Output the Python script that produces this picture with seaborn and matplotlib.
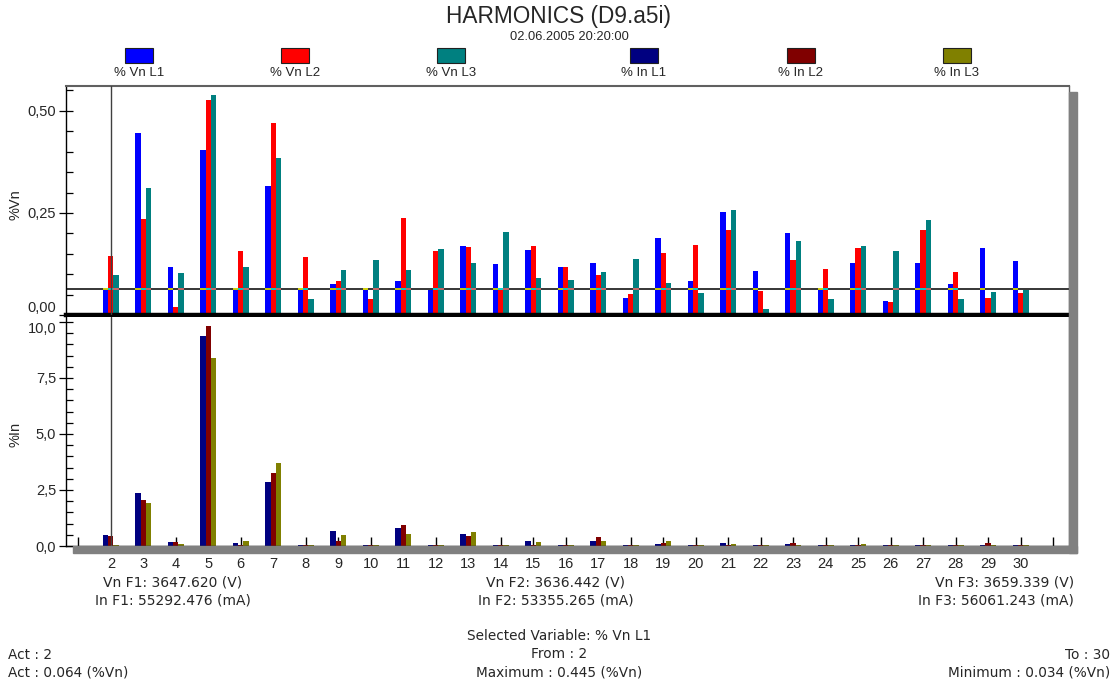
import numpy as np
import pandas as pd
import matplotlib
matplotlib.use("Agg")
import matplotlib.pyplot as plt
from matplotlib.patches import Rectangle
from matplotlib.ticker import MultipleLocator
import seaborn as sns

# ---------------- data ----------------
harmonics = list(range(2, 31))
vn_l1 = [0.064, 0.445, 0.117, 0.405, 0.064, 0.316, 0.063, 0.075, 0.062, 0.083,
         0.061, 0.169, 0.125, 0.159, 0.117, 0.127, 0.041, 0.188, 0.083, 0.253,
         0.109, 0.201, 0.063, 0.127, 0.034, 0.127, 0.075, 0.164, 0.132]
vn_l2 = [0.145, 0.234, 0.019, 0.526, 0.156, 0.471, 0.143, 0.083, 0.038, 0.238,
         0.156, 0.167, 0.062, 0.169, 0.117, 0.098, 0.051, 0.151, 0.172, 0.208,
         0.059, 0.135, 0.112, 0.164, 0.033, 0.208, 0.106, 0.041, 0.054]
vn_l3 = [0.098, 0.310, 0.104, 0.539, 0.117, 0.384, 0.038, 0.111, 0.135, 0.111,
         0.161, 0.127, 0.203, 0.090, 0.085, 0.106, 0.137, 0.078, 0.054, 0.258,
         0.014, 0.182, 0.038, 0.169, 0.156, 0.232, 0.038, 0.056, 0.061]
in_l1 = [0.48, 2.35, 0.19, 9.38, 0.15, 2.87, 0.05, 0.67, 0.05, 0.82,
         0.05, 0.54, 0.05, 0.21, 0.05, 0.21, 0.05, 0.10, 0.05, 0.15,
         0.05, 0.10, 0.05, 0.05, 0.05, 0.05, 0.05, 0.05, 0.05]
in_l2 = [0.44, 2.05, 0.19, 9.82, 0.05, 3.26, 0.05, 0.24, 0.05, 0.92,
         0.05, 0.43, 0.05, 0.05, 0.05, 0.39, 0.05, 0.15, 0.05, 0.05,
         0.05, 0.15, 0.05, 0.05, 0.05, 0.05, 0.05, 0.15, 0.05]
in_l3 = [0.05, 1.92, 0.10, 8.38, 0.21, 3.69, 0.05, 0.48, 0.05, 0.54,
         0.05, 0.62, 0.05, 0.19, 0.05, 0.21, 0.05, 0.21, 0.05, 0.10,
         0.05, 0.05, 0.05, 0.10, 0.05, 0.05, 0.05, 0.05, 0.05]

vn_names = ["% Vn L1", "% Vn L2", "% Vn L3"]
in_names = ["% In L1", "% In L2", "% In L3"]
vn_colors = ["#0000FF", "#FF0000", "#008080"]
in_colors = ["#000080", "#800000", "#808000"]
act_value = 0.064
act_harmonic = 2

vn_ticks = [0.0, 0.25, 0.5]
vn_ticklabels = ["0,00", "0,25", "0,50"]
in_ticks = [0.0, 2.5, 5.0, 7.5, 10.0]
in_ticklabels = ["0,0", "2,5", "5,0", "7,5", "10,0"]

title = "HARMONICS (D9.a5i)"
subtitle = "02.06.2005 20:20:00"
f_texts_left = ["Vn F1: 3647.620 (V)", "In F1: 55292.476 (mA)"]
f_texts_mid = ["Vn F2: 3636.442 (V)", "In F2: 53355.265 (mA)"]
f_texts_right = ["Vn F3: 3659.339 (V)", "In F3: 56061.243 (mA)"]
footer_center = ["Selected Variable: % Vn L1", "From : 2", "Maximum : 0.445 (%Vn)"]
footer_left = ["Act : 2", "Act : 0.064 (%Vn)"]
footer_right = ["To : 30", "Minimum : 0.034 (%Vn)"]

# ---------------- frames ----------------
df_vn = pd.DataFrame({"h": harmonics, vn_names[0]: vn_l1, vn_names[1]: vn_l2, vn_names[2]: vn_l3})
df_vn = df_vn.melt(id_vars="h", var_name="var", value_name="val")
df_in = pd.DataFrame({"h": harmonics, in_names[0]: in_l1, in_names[1]: in_l2, in_names[2]: in_l3})
df_in = df_in.melt(id_vars="h", var_name="var", value_name="val")

sns.set_style("white")
plt.rcParams["font.family"] = ["Liberation Sans", "DejaVu Sans"]
WIDE = ["DejaVu Sans"]

W, H = 1118, 690
fig = plt.figure(figsize=(W / 100, H / 100), dpi=100)
fig.patch.set_facecolor("white")


def px_axes(l, t, r, b):
    return fig.add_axes([l / W, 1 - b / H, (r - l) / W, (b - t) / H])


ax1 = px_axes(66, 86, 1069, 315)
ax2 = px_axes(66, 317, 1069, 546)

sns.barplot(data=df_vn, x="h", y="val", hue="var", hue_order=vn_names,
            palette=vn_colors, native_scale=True, width=0.49, gap=0,
            errorbar=None, saturation=1, linewidth=0, legend=False, ax=ax1)
sns.barplot(data=df_in, x="h", y="val", hue="var", hue_order=in_names,
            palette=in_colors, native_scale=True, width=0.49, gap=0,
            errorbar=None, saturation=1, linewidth=0, legend=False, ax=ax2)

xlim = (0.62, 31.49)
for ax in (ax1, ax2):
    ax.set_xlim(*xlim)
    ax.set_xlabel("")
    ax.set_facecolor("white")
    ax.axvline(act_harmonic, color="#404040", lw=1.0, zorder=5)
    ax.spines["left"].set_color("black")
    ax.spines["left"].set_linewidth(1.0)
    ax.spines["right"].set_color("#606060")
    ax.spines["right"].set_linewidth(1.0)

# top panel
ax1.set_ylim(0, 0.561)
ax1.set_yticks(vn_ticks)
ax1.set_yticklabels(vn_ticklabels)
ax1.yaxis.set_minor_locator(MultipleLocator(0.05))
ax1.tick_params(axis="x", bottom=False, labelbottom=False)
ax1.spines["top"].set_color("#606060")
ax1.spines["top"].set_linewidth(1.5)
ax1.spines["bottom"].set_color("black")
ax1.spines["bottom"].set_linewidth(3.2)
ax1.set_ylabel("%Vn", fontsize=10.5)
ax1.yaxis.set_label_coords(-0.043, 0.48)
ax1.axhline(act_value, color="black", lw=1.1, zorder=4)
# inverted-colour segments where the cursor line crosses bars (XOR style)
for p in list(ax1.patches):
    if p.get_height() >= act_value - 0.002:
        r, g, b, _ = p.get_facecolor()
        ax1.hlines(act_value, p.get_x(), p.get_x() + p.get_width(),
                   color=(1 - r, 1 - g, 1 - b), lw=1.1, zorder=4.5)

# bottom panel
ax2.set_ylim(0, 10.22)
ax2.set_yticks(in_ticks)
ax2.set_yticklabels(in_ticklabels)
ax2.yaxis.set_minor_locator(MultipleLocator(0.5))
xt = list(range(1, 32))
ax2.set_xticks(xt)
ax2.set_xticklabels([str(h) if h in harmonics else "" for h in xt])
ax2.tick_params(axis="x", direction="in", length=6.5, width=1.0, color="black",
                labelsize=10.5, pad=8, bottom=True)
ax2.spines["top"].set_visible(False)
ax2.spines["bottom"].set_color("black")
ax2.spines["bottom"].set_linewidth(1.0)
ax2.set_ylabel("%In", fontsize=10.5)
ax2.yaxis.set_label_coords(-0.043, 0.485)

for ax in (ax1, ax2):
    ax.tick_params(axis="y", which="major", direction="inout", length=10, width=0.9,
                   color="black", labelsize=10.5, pad=2, left=True)
    ax.tick_params(axis="y", which="minor", direction="in", length=5, width=0.9,
                   color="black", left=True)

# keep the two touching labels "0,00" and "10,0" apart
ax1.get_yticklabels()[0].set_verticalalignment("bottom")
ax2.get_yticklabels()[-1].set_verticalalignment("top")

# shadows
shadow = "#808080"
fig.patches.append(Rectangle((1069 / W, 1 - 553 / H), 8 / W, (553 - 92) / H,
                             transform=fig.transFigure, color=shadow, zorder=0))
fig.patches.append(Rectangle((73 / W, 1 - 553 / H), (1077 - 73) / W, 7 / H,
                             transform=fig.transFigure, color=shadow, zorder=0))

# titles
fig.text(559 / W, 1 - 16 / H, title, ha="center", va="center", fontsize=16.3)
fig.text(569 / W, 1 - 37 / H, subtitle, ha="center", va="center", fontsize=9.3)

# legend (swatch above label)
leg_x = [139, 295, 451, 644, 801, 957]
for cx, name, col in zip(leg_x, vn_names + in_names, vn_colors + in_colors):
    fig.patches.append(Rectangle(((cx - 14) / W, 1 - 63 / H), 28 / W, 15 / H,
                                 transform=fig.transFigure, facecolor=col,
                                 edgecolor="#202020", lw=0.8))
    fig.text(cx / W, 1 - 73 / H, name, ha="center", va="center", fontsize=9.5)

# F texts
for i, t in enumerate(f_texts_left):
    fig.text(173 / W, 1 - (582 + 18 * i) / H, t, ha="center", va="center",
             fontsize=10, family=WIDE)
for i, t in enumerate(f_texts_mid):
    fig.text(556 / W, 1 - (582 + 18 * i) / H, t, ha="center", va="center",
             fontsize=10, family=WIDE)
for i, t in enumerate(f_texts_right):
    fig.text(1074 / W, 1 - (582 + 18 * i) / H, t, ha="right", va="center",
             fontsize=10, family=WIDE)

# footer
for i, t in enumerate(footer_center):
    fig.text(559 / W, 1 - (636 + 18.5 * i) / H, t, ha="center", va="center",
             fontsize=9.8, family=WIDE)
for i, t in enumerate(footer_left):
    fig.text(8 / W, 1 - (655 + 18 * i) / H, t, ha="left", va="center",
             fontsize=9.8, family=WIDE)
for i, t in enumerate(footer_right):
    fig.text(1110 / W, 1 - (655 + 18 * i) / H, t, ha="right", va="center",
             fontsize=9.8, family=WIDE)

fig.savefig("out.png", dpi=100, facecolor="white")
